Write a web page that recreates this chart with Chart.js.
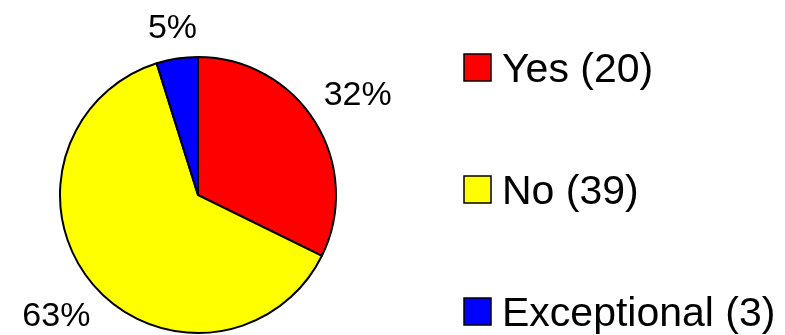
<!DOCTYPE html>
<html>
<head>
<meta charset="utf-8">
<script src="https://cdn.jsdelivr.net/npm/chart.js@4/dist/chart.umd.min.js"></script>
<style>
  html, body { margin: 0; padding: 0; background: #ffffff; }
  #wrap { width: 785px; height: 335px; position: relative; }
</style>
</head>
<body>
<div id="wrap"><canvas id="c" width="785" height="335"></canvas></div>
<script>
const categories = ["Yes", "No", "Exceptional"];
const counts = [20, 39, 3];
const sliceColors = ["#FF0000", "#FFFF00", "#0000FF"];

const FONT = "'Liberation Sans', Arial, sans-serif";

const pctLabels = {
  id: 'pctLabels',
  afterDatasetsDraw(chart) {
    const ctx = chart.ctx;
    const meta = chart.getDatasetMeta(0);
    const data = chart.data.datasets[0].data;
    const total = data.reduce((a, b) => a + b, 0);
    ctx.save();
    ctx.font = "34px " + FONT;
    ctx.fillStyle = "#000";
    ctx.textAlign = "center";
    ctx.textBaseline = "middle";
    meta.data.forEach((arc, i) => {
      const p = arc.getProps(['x', 'y', 'startAngle', 'endAngle', 'outerRadius'], true);
      const mid = (p.startAngle + p.endAngle) / 2;
      const dx = Math.cos(mid), dy = Math.sin(mid);
      const txt = Math.round(data[i] / total * 100) + "%";
      const w = ctx.measureText(txt).width;
      const hw = w / 2, hh = 12;
      const ext = Math.abs(dx) * hw + Math.abs(dy) * hh;
      const d = p.outerRadius + 15 + ext;
      ctx.fillText(txt, p.x + dx * d, p.y + dy * d);
    });
    ctx.restore();
  }
};

const sideLegend = {
  id: 'sideLegend',
  afterDraw(chart) {
    const ctx = chart.ctx;
    const ds = chart.data.datasets[0];
    ctx.save();
    ctx.font = "41px " + FONT;
    ctx.textBaseline = "alphabetic";
    ctx.textAlign = "left";
    chart.data.labels.forEach((lab, i) => {
      const base = 82 + i * 122;
      const bx = 464, by = base - 28, bs = 27;
      ctx.fillStyle = ds.backgroundColor[i];
      ctx.fillRect(bx, by, bs, bs);
      ctx.lineWidth = 1.5;
      ctx.strokeStyle = "#000";
      ctx.strokeRect(bx, by, bs, bs);
      ctx.fillStyle = "#000";
      ctx.fillText(lab + " (" + ds.data[i] + ")", 502, base);
    });
    ctx.restore();
  }
};

new Chart(document.getElementById('c'), {
  type: 'pie',
  data: {
    labels: categories,
    datasets: [{
      data: counts,
      backgroundColor: sliceColors,
      borderColor: "#000000",
      borderWidth: 2
    }]
  },
  options: {
    responsive: false,
    animation: false,
    layout: { padding: { left: 59, top: 56, right: 448, bottom: 1 } },
    plugins: {
      legend: { display: false },
      tooltip: { enabled: false }
    }
  },
  plugins: [pctLabels, sideLegend]
});
</script>
</body>
</html>
